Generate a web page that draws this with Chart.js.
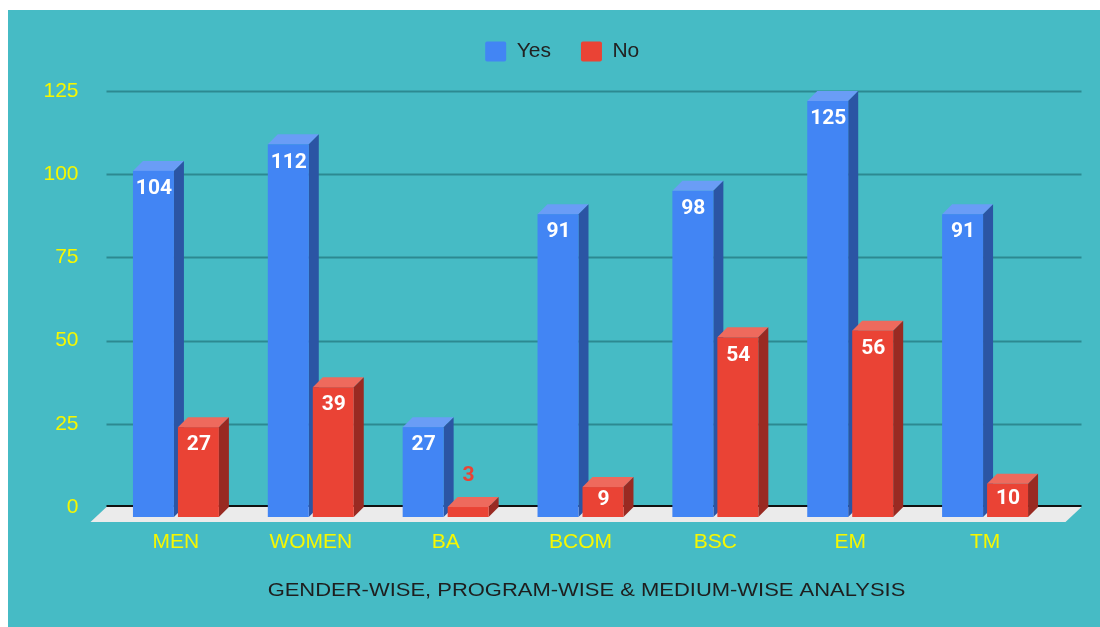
<!DOCTYPE html>
<html>
<head>
<meta charset="utf-8">
<script src="https://cdn.jsdelivr.net/npm/chart.js@4/dist/chart.umd.min.js"></script>
<style>
  html, body { margin: 0; padding: 0; background: #fff; }
  #wrap { width: 1100px; height: 627px; }
</style>
</head>
<body>
<div id="wrap"><canvas id="analysisChart" width="1100" height="627"></canvas></div>
<script>
// categories and series
var categories = ['MEN', 'WOMEN', 'BA', 'BCOM', 'BSC', 'EM', 'TM'];
var yesValues = [104, 112, 27, 91, 98, 125, 91];
var noValues = [27, 39, 3, 9, 54, 56, 10];
var yTicks = [0, 25, 50, 75, 100, 125];
var axisTitle = 'GENDER-WISE, PROGRAM-WISE & MEDIUM-WISE ANALYSIS';

var DEPTH = 10;
var faces = {
    Yes: { front: '#4285f4', top: '#6a9df6', side: '#2b55a4' },
    No:  { front: '#ea4335', top: '#ee6a5d', side: '#992a22' }
};

// give the legend more room below it and nudge it right
var legendSpace = {
    id: 'legendSpace',
    beforeInit: function(chart) {
        var fit = chart.legend.fit;
        chart.legend.fit = function() {
            fit.call(this);
            this.height = 80;
        };
    },
    afterLayout: function(chart) {
        chart.legend.left += 31;
        chart.legend.right += 31;
    }
};

// teal panel behind everything
var panel = {
    id: 'panel',
    beforeDraw: function(chart) {
        var ctx = chart.ctx;
        ctx.save();
        ctx.fillStyle = '#ffffff';
        ctx.fillRect(0, 0, chart.width, chart.height);
        ctx.fillStyle = '#46bbc5';
        ctx.fillRect(8, 10, chart.width - 8, chart.height - 10);
        ctx.restore();
    },
    afterDraw: function(chart) {
        // the axis title in the picture is drawn wide, so stretch it
        var ctx = chart.ctx;
        var area = chart.chartArea;
        ctx.save();
        ctx.translate((area.left + area.right) / 2 - 4, 591);
        ctx.scale(1.22, 1);
        ctx.font = '18px "Liberation Sans", Arial, sans-serif';
        ctx.fillStyle = '#1e1e1e';
        ctx.textAlign = 'center';
        ctx.textBaseline = 'middle';
        ctx.fillText(axisTitle, 0, 0);
        ctx.restore();
    }
};

function poly(ctx, pts, color) {
    ctx.beginPath();
    ctx.moveTo(pts[0][0], pts[0][1]);
    for (var i = 1; i < pts.length; i++) ctx.lineTo(pts[i][0], pts[i][1]);
    ctx.closePath();
    ctx.fillStyle = color;
    ctx.fill();
}

// grid, floor and 3D boxes
var bars3d = {
    id: 'bars3d',
    beforeDatasetsDraw: function(chart) {
        var ctx = chart.ctx;
        var area = chart.chartArea;
        var y = chart.scales.y;
        var gl = area.left - 12, gr = area.right + 19;
        ctx.save();

        yTicks.forEach(function(v) {
            if (v === 0) return;
            var py = Math.round(y.getPixelForValue(v)) + 0.5;
            ctx.strokeStyle = '#2c8991';
            ctx.lineWidth = 2;
            ctx.beginPath();
            ctx.moveTo(gl, py);
            ctx.lineTo(gr, py);
            ctx.stroke();
        });

        var zero = y.getPixelForValue(0);
        poly(ctx, [[gl, zero], [gr, zero], [gr - 16, zero + 15], [gl - 16, zero + 15]], '#ebebeb');
        ctx.strokeStyle = '#111111';
        ctx.lineWidth = 2;
        ctx.beginPath();
        ctx.moveTo(gl, zero - 1);
        ctx.lineTo(gr, zero - 1);
        ctx.stroke();

        categories.forEach(function(cat, i) {
            chart.data.datasets.forEach(function(ds, d) {
                var el = chart.getDatasetMeta(d).data[i];
                var c = faces[ds.label];
                var w = el.width;
                var fl = el.x - w / 2 - DEPTH, fr = el.x + w / 2 - DEPTH;
                var ft = el.y + DEPTH, fb = el.base + DEPTH;
                poly(ctx, [[fl, ft], [fl + DEPTH, ft - DEPTH], [fr + DEPTH, ft - DEPTH], [fr, ft]], c.top);
                poly(ctx, [[fr, ft], [fr + DEPTH, ft - DEPTH], [fr + DEPTH, fb - DEPTH], [fr, fb]], c.side);
                ctx.fillStyle = c.front;
                ctx.fillRect(fl, ft, w, fb - ft);

                var value = ds.data[i];
                var h = fb - ft;
                var cx = (fl + fr) / 2 + 0.5, ly;
                ctx.font = 'bold 21px Roboto, "Liberation Sans", sans-serif';
                ctx.textAlign = 'center';
                ctx.textBaseline = 'middle';
                if (h < 24) {
                    ctx.fillStyle = c.front;
                    ly = ft - 31;
                } else {
                    ctx.fillStyle = '#ffffff';
                    ly = h < 34 ? ft + h / 2 - 2 : ft + 18;
                }
                ctx.fillText(String(value), cx, ly);
            });
        });
        ctx.restore();
        return false;
    }
};

var ctx = document.getElementById('analysisChart').getContext('2d');
var analysisChart = new Chart(ctx, {
    type: 'bar',
    data: {
        labels: categories,
        datasets: [{
            label: 'Yes',
            data: yesValues,
            backgroundColor: faces.Yes.front,
            borderWidth: 0,
            categoryPercentage: 0.667,
            barPercentage: 0.911
        }, {
            label: 'No',
            data: noValues,
            backgroundColor: faces.No.front,
            borderWidth: 0,
            categoryPercentage: 0.667,
            barPercentage: 0.911
        }]
    },
    options: {
        responsive: false,
        animation: false,
        layout: {
            padding: { left: 0, right: 37.5, top: 11, bottom: 20 }
        },
        plugins: {
            tooltip: { enabled: false },
            legend: {
                position: 'top',
                labels: {
                    boxWidth: 21,
                    boxHeight: 20,
                    padding: 30,
                    useBorderRadius: true,
                    borderRadius: 2,
                    color: '#222222',
                    font: { family: '"Liberation Sans", Arial, sans-serif', size: 21 }
                }
            }
        },
        scales: {
            x: {
                grid: { display: false, drawTicks: false },
                border: { display: false },
                ticks: {
                    color: '#f7f700',
                    padding: 23,
                    labelOffset: -10,
                    font: { family: '"Liberation Sans", Arial, sans-serif', size: 21 }
                },
                afterFit: function(scale) { scale.height = 100; }
            },
            y: {
                min: 0,
                max: 125,
                grid: { display: false, drawTicks: false },
                border: { display: false },
                ticks: {
                    stepSize: 25,
                    padding: 40,
                    color: '#f7f700',
                    font: { family: '"Liberation Sans", Arial, sans-serif', size: 21 }
                },
                afterFit: function(scale) { scale.width = 118.5; }
            }
        }
    },
    plugins: [legendSpace, panel, bars3d]
});
</script>
</body>
</html>
